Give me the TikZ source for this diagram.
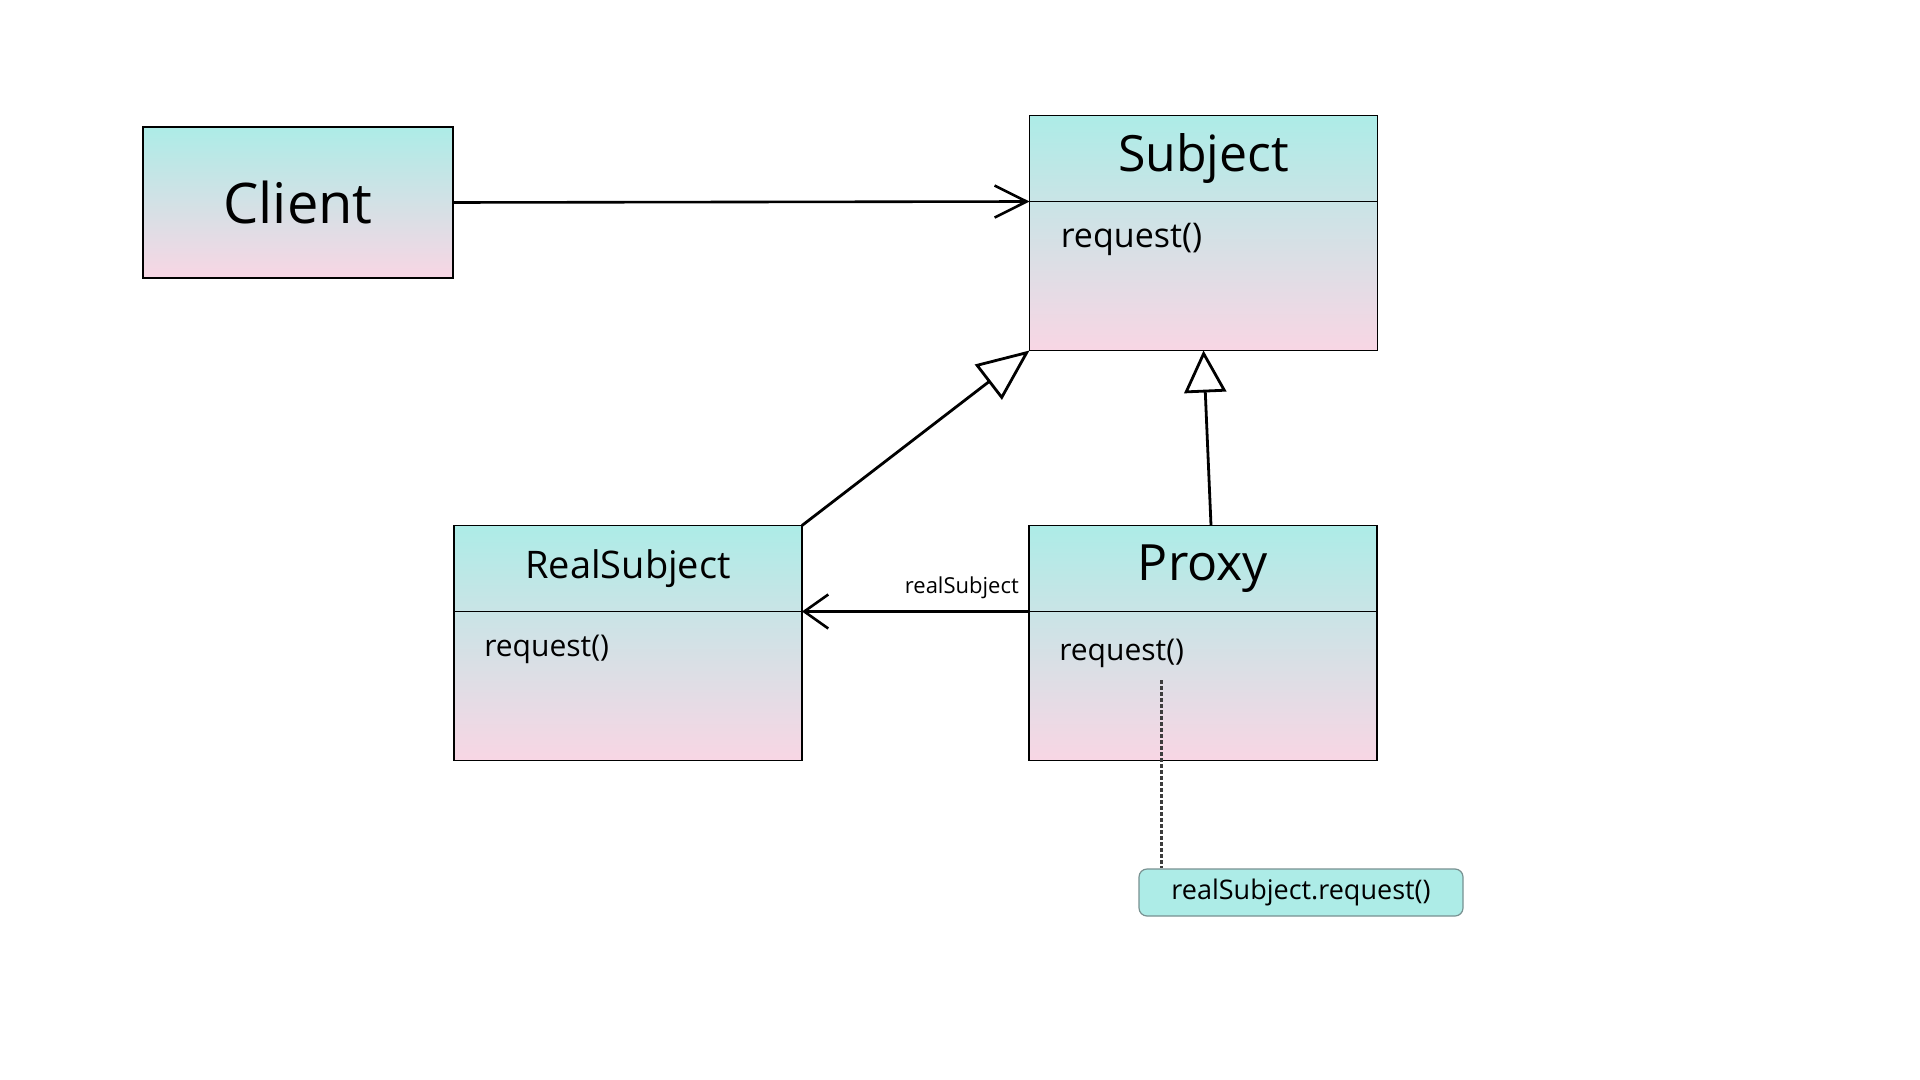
\documentclass[tikz,border=0pt]{standalone}
\usepackage{fontspec}
\setmainfont{Open Sans}
\usetikzlibrary{arrows.meta,positioning,calc}

\definecolor{topcyan}{RGB}{173,236,231}
\definecolor{midmix}{RGB}{201,228,230}
\definecolor{botpink}{RGB}{248,214,228}
\definecolor{noteedge}{RGB}{120,145,145}
\definecolor{notedash}{RGB}{60,60,60}

\tikzset{every picture/.style={line width=0.75pt}}
\tikzset{
  classbox/.style={draw=black,line width=0.7pt,top color=topcyan,bottom color=botpink,inner sep=0pt,outer sep=0pt},
  headbox/.style={draw=black,line width=0.7pt,top color=topcyan,bottom color=midmix,minimum width=174pt,minimum height=43pt,inner sep=0pt,outer sep=0pt},
  opsbox/.style={draw=black,line width=0.7pt,top color=midmix,bottom color=botpink,minimum width=174pt,minimum height=74.5pt,inner sep=0pt,outer sep=0pt},
  optext/.style={anchor=west,inner sep=0.75pt,font=\fontsize{15}{18}\selectfont},
  assoc/.style={line width=1.3pt,-{Straight Barb[length=16pt,width=16pt]}},
  inherit/.style={line width=1.4pt,-{Triangle[open,length=21pt,width=21pt]}},
  notebox/.style={draw=noteedge,line width=0.6pt,fill=topcyan,rounded corners=4pt,minimum width=162pt,minimum height=23.5pt,inner sep=0pt,font=\fontsize{13.5}{16}\selectfont},
  noteline/.style={draw=notedash,line width=1.5pt,dash pattern=on 2pt off 1pt}
}

\begin{document}
\begin{tikzpicture}[x=0.5pt,y=0.5pt,yscale=-1,xscale=1]
\useasboundingbox (0,0) rectangle (1920,1080);

%Shape: Client
\node [classbox,minimum width=155pt,minimum height=75.5pt,font=\fontsize{28}{32}\selectfont] (client) at (298,202.5) {Client};

%Shape: Subject
\node [headbox,font=\fontsize{25}{30}\selectfont] (subject) at (1203.5,158.5) {Subject};
\node [opsbox,below=0pt of subject] (subjectops) {};
% Text Node
\node [optext,font=\fontsize{17}{20}\selectfont] (subjectreq) at ($(subjectops.north west)+(29,38)$) {request()};

%Shape: RealSubject
\node [headbox,font=\fontsize{19}{23}\selectfont] (realsubject) at (628,568.5) {RealSubject};
\node [opsbox,below=0pt of realsubject] (realsubjectops) {};
% Text Node
\node [optext] (realsubjectreq) at ($(realsubjectops.north west)+(28,38)$) {request()};

%Shape: Proxy
\node [headbox,font=\fontsize{25}{30}\selectfont] (proxy) at (1203,568.5) {Proxy};
\node [opsbox,below=0pt of proxy] (proxyops) {};
% Text Node
\node [optext] (proxyreq) at ($(proxyops.north west)+(28,42)$) {request()};

%Shape: note
\node [notebox] (note) at (1301,892.5) {realSubject.request()};

%Straight Lines
\draw [assoc] (client.east) -- (subject.south west);
\draw [inherit,-{Triangle[open,length=26pt,width=22pt]}] (realsubject.north east) -- (subjectops.south west);
\draw [inherit] ([xshift=4pt]proxy.north) -- (subjectops.south);
\draw [line width=1.3pt,-{Straight Barb[length=12pt,width=17pt]}] (proxy.south west) -- (realsubject.south east);
% Text Node
\node [anchor=south east,inner sep=0.75pt,font=\fontsize{11}{13}\selectfont] (reallabel) at ([xshift=-4pt,yshift=-5pt]proxy.south west) {realSubject};

%Dashed line to note
\coordinate (notestart) at (1161,680);
\draw [noteline] (notestart) -- (notestart |- note.north);
\end{tikzpicture}
\end{document}
